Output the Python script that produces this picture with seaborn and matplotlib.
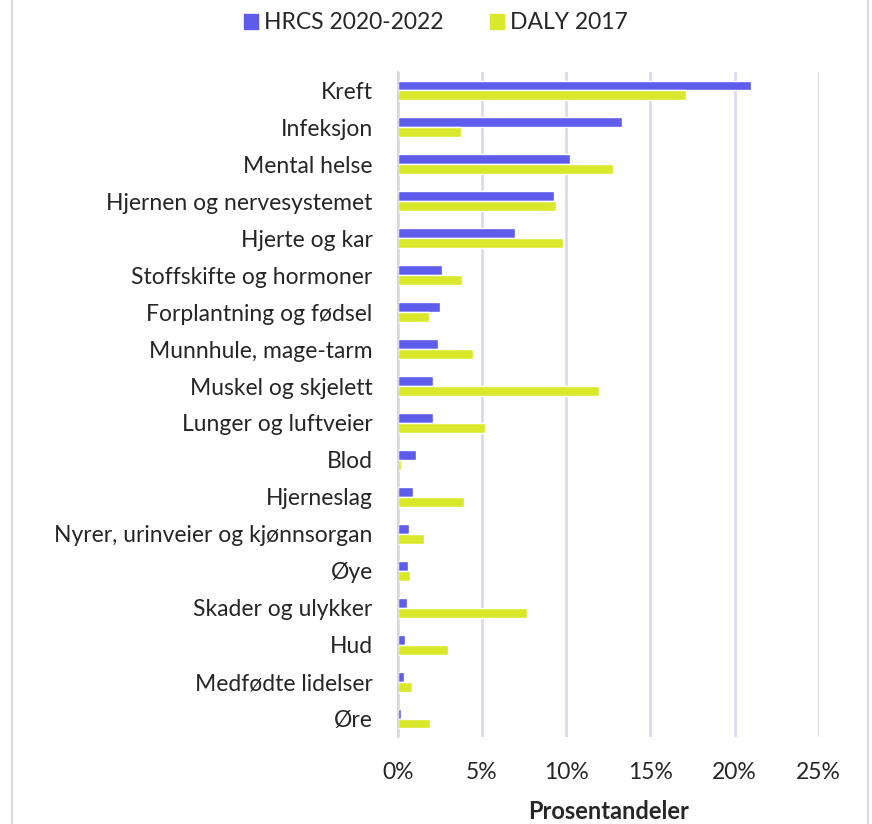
import numpy as np
import pandas as pd
import matplotlib.pyplot as plt
import matplotlib.ticker as mticker
from matplotlib.lines import Line2D
from matplotlib.patches import Patch
import seaborn as sns

sns.set_style("white")
plt.rcParams["font.family"] = ["Lato", "DejaVu Sans"]

# ── Data (percent shares) ─────────────────────────────────────────────────────
categories = [
    "Kreft", "Infeksjon", "Mental helse", "Hjernen og nervesystemet",
    "Hjerte og kar", "Stoffskifte og hormoner", "Forplantning og fødsel",
    "Munnhule, mage-tarm", "Muskel og skjelett", "Lunger og luftveier",
    "Blod", "Hjerneslag", "Nyrer, urinveier og kjønnsorgan", "Øye",
    "Skader og ulykker", "Hud", "Medfødte lidelser", "Øre",
]
hrcs = [20.96, 13.32, 10.23, 9.28, 6.95, 2.63, 2.51, 2.41, 2.10, 2.10,
        1.09, 0.89, 0.69, 0.63, 0.55, 0.44, 0.36, 0.18]
daly = [17.14, 3.74, 12.77, 9.38, 9.80, 3.82, 1.86, 4.47, 11.98, 5.17,
        0.18, 3.92, 1.54, 0.71, 7.68, 2.99, 0.83, 1.92]
series = ["HRCS 2020-2022", "DALY 2017"]
x_ticks = [0, 5, 10, 15, 20, 25]

C_HRCS = "#5E5CEB"
C_DALY = "#D9E82A"

df = pd.DataFrame(
    {
        "kategori": categories * 2,
        "andel": hrcs + daly,
        "serie": [series[0]] * len(categories) + [series[1]] * len(categories),
    }
)

fig = plt.figure(figsize=(8.72, 8.24), dpi=100)
ax = fig.add_axes([0.456, 0.1056, 0.483, 0.807])

sns.barplot(
    data=df,
    y="kategori",
    x="andel",
    hue="serie",
    orient="h",
    palette=[C_HRCS, C_DALY],
    saturation=1,
    width=0.54,
    ax=ax,
    legend=False,
    zorder=3,
)

ax.set_xlim(0, 25)
ax.set_xticks(x_ticks)
ax.xaxis.set_major_formatter(mticker.FuncFormatter(lambda v, _: f"{v:.0f}%"))
ax.grid(axis="x", color="#D9D9F3", linewidth=2, zorder=0)
ax.grid(axis="y", visible=False)
for side in ("top", "right", "bottom"):
    ax.spines[side].set_visible(False)
ax.spines["left"].set_color("#D9D9D9")
ax.spines["left"].set_linewidth(1.5)
ax.spines["left"].set_zorder(4)

ax.tick_params(axis="y", labelsize=16.5, length=0, pad=18)
ax.tick_params(axis="x", labelsize=16.5, length=0, pad=18)
ax.set_ylabel("")
ax.set_xlabel("Prosentandeler", fontsize=17, fontweight="bold", labelpad=12)

handles = [Patch(color=C_HRCS), Patch(color=C_DALY)]
fig.legend(
    handles,
    series,
    loc="upper center",
    bbox_to_anchor=(0.5, 1.01),
    ncol=2,
    frameon=False,
    fontsize=16.5,
    handlelength=0.6,
    handleheight=0.6,
    handletextpad=0.3,
    columnspacing=2.0,
)

# chart-area frame (left/right edges)
for xf in (12 / 872, 868 / 872):
    fig.add_artist(Line2D([xf, xf], [0, 1], transform=fig.transFigure,
                          color="#D9D9D9", linewidth=1.5))

plt.savefig("out.png", dpi=100)
plt.close()
